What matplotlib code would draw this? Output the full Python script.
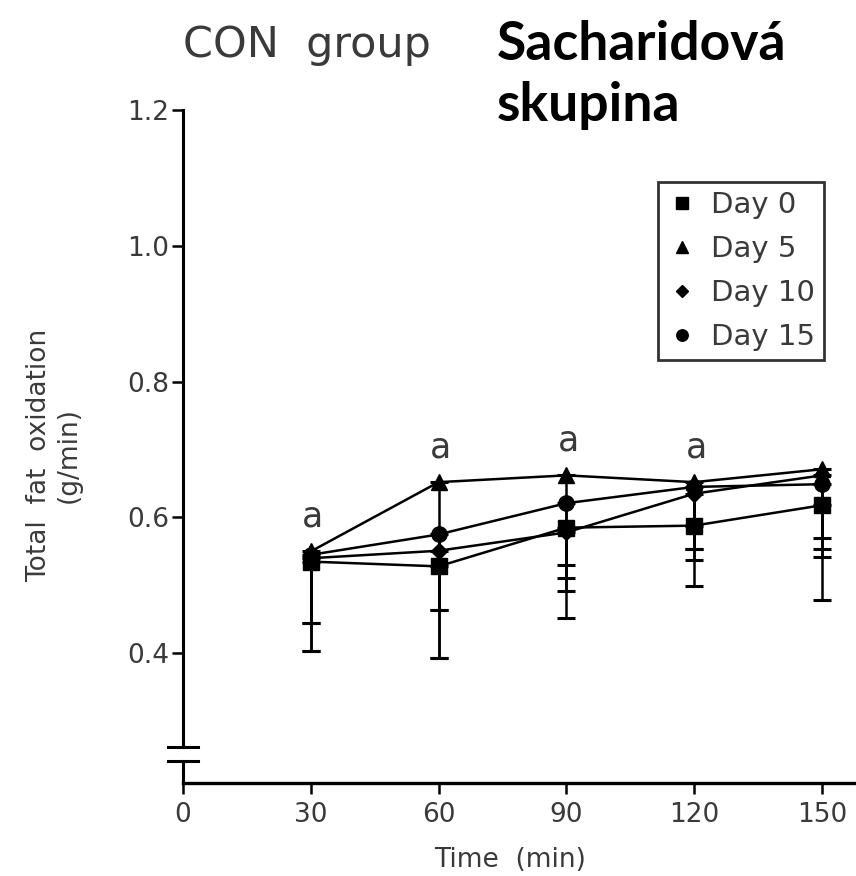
import numpy as np
import matplotlib
matplotlib.use('Agg')
import matplotlib.pyplot as plt
from matplotlib.lines import Line2D

# Data
times = [30, 60, 90, 120, 150]
day0 = [0.535, 0.528, 0.585, 0.588, 0.618]
day5 = [0.550, 0.652, 0.662, 0.652, 0.671]
day10 = [0.540, 0.551, 0.578, 0.635, 0.662]
day15 = [0.545, 0.575, 0.621, 0.645, 0.649]

# lower ends of the error bars (only downward bars are drawn)
low0 = [0.403, 0.464, 0.530, 0.553, 0.570]
low5 = [0.444, 0.393, 0.452, 0.499, 0.478]
low10 = [0.444, 0.464, 0.511, 0.553, 0.553]
low15 = [0.403, 0.393, 0.492, 0.538, 0.542]

sig_times = [30, 60, 90, 120]
labels = ['Day 0', 'Day 5', 'Day 10', 'Day 15']
markers = ['s', '^', 'D', 'o']
msizes = [11, 11, 8.5, 11]

xticks = [0, 30, 60, 90, 120, 150]
yticks = [0.4, 0.6, 0.8, 1.0, 1.2]

gray = '#3a3a3a'

fig = plt.figure(figsize=(8.56, 8.76), dpi=100)
ax = fig.add_axes([183 / 856, 93 / 876, 673 / 856, 673 / 876])

series = [day0, day5, day10, day15]
lows = [low0, low5, low10, low15]

for vals, low, mk, ms in zip(series, lows, markers, msizes):
    vals = np.array(vals)
    low = np.array(low)
    yerr = [vals - low, np.zeros_like(vals)]
    ax.errorbar(times, vals, yerr=yerr, fmt='none', ecolor='black',
                elinewidth=1.8, capsize=6.5, capthick=2.2, zorder=2)
    ax.plot(times, vals, color='black', lw=1.8, marker=mk, ms=ms,
            mfc='black', mec='black', zorder=3)

# significance letters above the Day 5 values
for t in sig_times:
    v = day5[times.index(t)]
    ax.annotate('a', (t, v), xytext=(1.5, 13), textcoords='offset points',
                ha='center', va='bottom', fontsize=25, color=gray)

ax.set_xlim(0, 158)
ax.set_ylim(0.209, 1.2)
ax.set_xticks(xticks)
ax.set_yticks(yticks)
ax.set_xticklabels([str(t) for t in xticks])
ax.set_yticklabels(['%.1f' % y for y in yticks])
ax.tick_params(axis='both', labelsize=19, labelcolor=gray, width=1.8,
               length=8, direction='out', color='black')
ax.tick_params(axis='x', pad=6)
ax.tick_params(axis='y', pad=2)

for s in ['top', 'right']:
    ax.spines[s].set_visible(False)
ax.spines['bottom'].set_linewidth(2.4)
ax.spines['left'].set_linewidth(2.2)
ax.spines['left'].set_bounds(0.262, 1.2)

# broken y axis marks
ax.plot([0, 0], [0.209, 0.241], color='black', lw=2.2, clip_on=False)
for yb in [0.262, 0.241]:
    ax.plot([-3.5, 3.5], [yb, yb], color='black', lw=2.2, clip_on=False)

ax.set_xlabel('Time  (min)', fontsize=19, color=gray)
ax.xaxis.set_label_coords(0.486, -0.095)
ax.set_ylabel('Total  fat  oxidation\n(g/min)', fontsize=19, color=gray,
              linespacing=1.2)
ax.yaxis.set_label_coords(-0.15, 0.487)

handles = [Line2D([], [], color='black', marker=mk, ls='none', ms=ms * 0.75)
           for mk, ms in zip(markers, msizes)]
leg = ax.legend(handles, labels, loc='upper right',
                bbox_to_anchor=(0.952, 0.893), prop={'size': 21},
                frameon=True, fancybox=False, borderpad=0.3,
                labelspacing=0.55, handletextpad=0.5, handlelength=1.0,
                borderaxespad=0)
leg.get_frame().set_edgecolor('black')
leg.get_frame().set_linewidth(2.0)
for txt in leg.get_texts():
    txt.set_color(gray)

fig.text(183 / 856, 1 - 45 / 876, 'CON  group', fontsize=31, color=gray,
         ha='left', va='center')
fig.text(497 / 856, 1 - 45 / 876, 'Sacharidová', fontsize=38.5,
         fontweight='bold', family='Lato', ha='left', va='center')
fig.text(497 / 856, 1 - 105 / 876, 'skupina', fontsize=38.5,
         fontweight='bold', family='Lato', ha='left', va='center')

fig.savefig('out.png', dpi=100)
